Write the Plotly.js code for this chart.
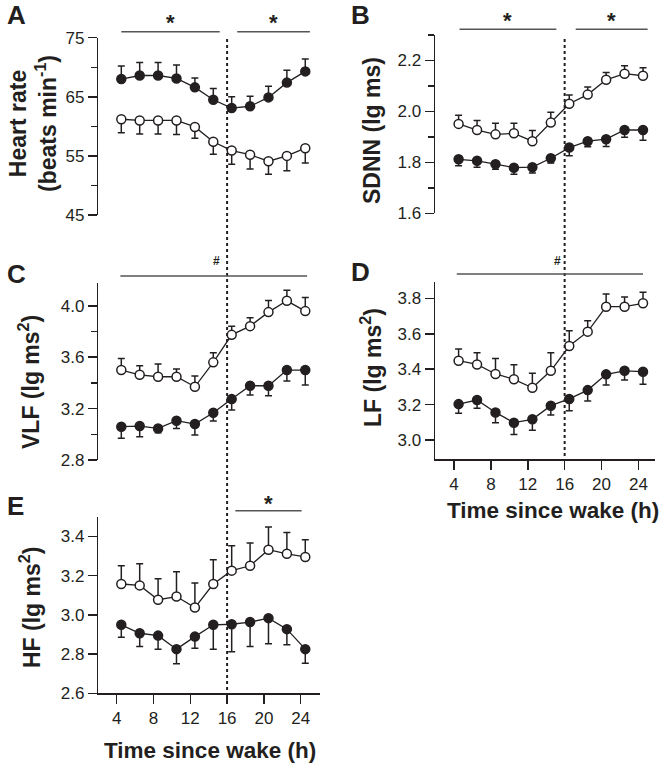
<!DOCTYPE html>
<html>
<head>
<meta charset="utf-8">
<script src="https://cdn.plot.ly/plotly-3.0.1.min.js"></script>
<style>
  html, body { margin: 0; padding: 0; background: #fff; }
  #chart { width: 659px; height: 766px; }
</style>
</head>
<body>
<div id="chart"></div>
<script>
// hours since wake (bin centres)
const hours = [4.5, 6.5, 8.5, 10.5, 12.5, 14.5, 16.5, 18.5, 20.5, 22.5, 24.5];
const xTicks = [4, 8, 12, 16, 20, 24];

// A - heart rate (beats/min)
const hrFilled = [68.0, 68.6, 68.6, 68.1, 66.6, 64.5, 63.1, 63.4, 64.9, 67.4, 69.3];
const hrFilledErr = [2.2, 2.2, 2.2, 2.3, 1.6, 1.9, 1.9, 1.7, 1.9, 2.1, 2.1];
const hrOpen = [61.2, 61.0, 61.0, 61.0, 59.9, 57.4, 55.9, 55.2, 54.1, 55.0, 56.3];
const hrOpenErr = [2.3, 2.3, 2.3, 2.4, 1.9, 2.1, 2.3, 2.4, 2.2, 2.5, 2.5];

// B - SDNN (lg ms)
const sdnnOpen = [1.951, 1.927, 1.910, 1.914, 1.883, 1.956, 2.030, 2.066, 2.124, 2.148, 2.140];
const sdnnOpenErr = [0.034, 0.037, 0.044, 0.040, 0.042, 0.041, 0.034, 0.030, 0.029, 0.031, 0.031];
const sdnnFilled = [1.812, 1.806, 1.793, 1.779, 1.781, 1.816, 1.858, 1.883, 1.891, 1.927, 1.927];
const sdnnFilledErr = [0.025, 0.025, 0.020, 0.026, 0.023, 0.019, 0.032, 0.022, 0.029, 0.028, 0.040];

// C - VLF (lg ms2)
const vlfOpen = [3.500, 3.463, 3.448, 3.448, 3.370, 3.560, 3.774, 3.842, 3.951, 4.039, 3.959];
const vlfOpenErr = [0.090, 0.070, 0.100, 0.060, 0.083, 0.074, 0.068, 0.065, 0.090, 0.083, 0.106];
const vlfFilled = [3.059, 3.064, 3.046, 3.106, 3.080, 3.168, 3.274, 3.378, 3.378, 3.500, 3.500];
const vlfFilledErr = [0.090, 0.083, 0.034, 0.060, 0.086, 0.065, 0.085, 0.073, 0.078, 0.086, 0.117];

// D - LF (lg ms2)
const lfOpen = [3.448, 3.427, 3.373, 3.343, 3.295, 3.391, 3.531, 3.612, 3.753, 3.753, 3.772];
const lfOpenErr = [0.066, 0.066, 0.088, 0.082, 0.082, 0.102, 0.086, 0.062, 0.071, 0.054, 0.062];
const lfFilled = [3.203, 3.226, 3.156, 3.098, 3.117, 3.194, 3.232, 3.282, 3.371, 3.391, 3.386];
const lfFilledErr = [0.052, 0.047, 0.058, 0.066, 0.061, 0.053, 0.066, 0.062, 0.060, 0.052, 0.071];

// E - HF (lg ms2)
const hfOpen = [3.157, 3.150, 3.077, 3.093, 3.037, 3.157, 3.225, 3.250, 3.332, 3.311, 3.295];
const hfOpenErr = [0.093, 0.110, 0.107, 0.127, 0.125, 0.124, 0.127, 0.116, 0.116, 0.109, 0.088];
const hfFilled = [2.949, 2.906, 2.894, 2.825, 2.889, 2.949, 2.952, 2.963, 2.983, 2.927, 2.825];
const hfFilledErr = [0.063, 0.068, 0.069, 0.075, 0.059, 0.125, 0.140, 0.125, 0.131, 0.080, 0.072];

// significance bars [from, to] in hours
const sigA = [[4.5, 15.2], [17.1, 25.0]];
const sigB = [[4.6, 15.1], [17.2, 25.0]];
const sigC = [[4.4, 24.7]];
const sigD = [[4.3, 24.5]];
const sigE = [[16.9, 24.1]];
const hashC = 14.8;
const hashD = 15.2;
const wakeSplit = 16;

const W = 659, H = 766;
const INK = "#231f20";
const FONT = "Liberation Sans, Arial, Helvetica, sans-serif";

const px = (v) => v / W;
const py = (v) => 1 - v / H;

function series(xa, ya, y, err, filled, up) {
    return {
        x: hours, y: y, xaxis: xa, yaxis: ya,
        type: "scatter", mode: "lines+markers",
        line: { color: INK, width: 1.3 },
        marker: {
            symbol: "circle", size: 9,
            color: filled ? INK : "#ffffff",
            line: { color: INK, width: 1.5 },
        },
        error_y: {
            type: "data", symmetric: false,
            array: up ? err : err.map(() => 0),
            arrayminus: up ? err.map(() => 0) : err,
            color: INK, thickness: 1.5, width: 3.5,
        },
        showlegend: false, hoverinfo: "skip",
    };
}

const traces = [
    series("x", "y", hrOpen, hrOpenErr, false, false),
    series("x", "y", hrFilled, hrFilledErr, true, true),
    series("x2", "y2", sdnnFilled, sdnnFilledErr, true, false),
    series("x2", "y2", sdnnOpen, sdnnOpenErr, false, true),
    series("x3", "y3", vlfFilled, vlfFilledErr, true, false),
    series("x3", "y3", vlfOpen, vlfOpenErr, false, true),
    series("x4", "y4", lfFilled, lfFilledErr, true, false),
    series("x4", "y4", lfOpen, lfOpenErr, false, true),
    series("x5", "y5", hfFilled, hfFilledErr, true, false),
    series("x5", "y5", hfOpen, hfOpenErr, false, true),
];

const leftDom = [px(98.3), px(320)];
const rightDom = [px(435), px(655)];

function xAxis(dom, range, visible, anchor) {
    return {
        domain: dom, range: range, anchor: anchor,
        visible: visible, showgrid: false, zeroline: false,
        showline: true, linecolor: INK, linewidth: 1.5,
        ticks: "outside", ticklen: 9, tickwidth: 1.5, tickcolor: INK,
        tickmode: "array", tickvals: xTicks,
        tickfont: { family: FONT, size: 17, color: INK },
        automargin: false, fixedrange: true,
    };
}

function yAxis(dom, range, dtick, tick0, minor, fmt, anchor) {
    const ax = {
        domain: dom, range: range, anchor: anchor,
        showgrid: false, zeroline: false,
        showline: true, linecolor: INK, linewidth: 1.5,
        ticks: "outside", ticklen: 9, tickwidth: 1.5, tickcolor: INK,
        dtick: dtick, tick0: tick0, tickformat: fmt,
        tickfont: { family: FONT, size: 17, color: INK },
        automargin: false, fixedrange: true,
    };
    if (minor) {
        ax.minor = { dtick: minor, ticklen: 6, tickwidth: 1.5, tickcolor: INK, ticks: "outside", showgrid: false };
    }
    return ax;
}

const shapes = [];
const annotations = [];

// dotted line at 16 h, spanning each column
shapes.push({ type: "line", xref: "x", yref: "paper", x0: wakeSplit, x1: wakeSplit,
    y0: py(39), y1: py(693), line: { color: INK, width: 2, dash: "dot" } });
shapes.push({ type: "line", xref: "x2", yref: "paper", x0: wakeSplit, x1: wakeSplit,
    y0: py(39), y1: py(459), line: { color: INK, width: 2, dash: "dot" } });

function sigBars(xref, bars, yLine, yMark, mark, markX) {
    bars.forEach((b) => {
        shapes.push({ type: "line", xref: xref, yref: "paper", x0: b[0], x1: b[1],
            y0: py(yLine), y1: py(yLine), line: { color: "#555555", width: 1.5 } });
        if (mark === "*") {
            annotations.push({ xref: xref, yref: "paper", x: (b[0] + b[1]) / 2, y: py(yMark),
                text: "<b>*</b>", showarrow: false, xanchor: "center", yanchor: "middle",
                font: { family: FONT, size: 22, color: INK } });
        }
    });
    if (mark === "#") {
        annotations.push({ xref: xref, yref: "paper", x: markX, y: py(yMark),
            text: "<b>#</b>", showarrow: false, xanchor: "center", yanchor: "middle",
            font: { family: FONT, size: 12, color: INK } });
    }
}
sigBars("x", sigA, 31.7, 22, "*");
sigBars("x2", sigB, 29.3, 20, "*");
sigBars("x3", sigC, 276, 261, "#", hashC);
sigBars("x4", sigD, 274, 261, "#", hashD);
sigBars("x5", sigE, 510.7, 503, "*");

function label(text, x, y, size, angle) {
    annotations.push({ xref: "paper", yref: "paper", x: px(x), y: py(y), text: text,
        showarrow: false, xanchor: "center", yanchor: "middle", textangle: angle || 0,
        font: { family: FONT, size: size, color: INK } });
}

// panel letters
label("<b>A</b>", 16, 15, 26);
label("<b>B</b>", 360.5, 15, 26);
label("<b>C</b>", 16, 274, 26);
label("<b>D</b>", 360.5, 272, 26);
label("<b>E</b>", 15.5, 506, 26);

// axis titles
label("<b>Heart rate<br>(beats min<sup>-1</sup>)</b>", 33, 124, 23, -90);
label("<b>SDNN (lg ms)</b>", 372, 131, 23, -90);
label("<b>VLF (lg ms<sup>2</sup>)</b>", 29, 382, 23, -90);
label("<b>LF (lg ms<sup>2</sup>)</b>", 371, 368, 23, -90);
label("<b>HF (lg ms<sup>2</sup>)</b>", 30, 608, 23, -90);
label("<b>Time since wake (h)</b>", 210, 750, 22.5);
label("<b>Time since wake (h)</b>", 553, 510, 22.5);

const layout = {
    width: W, height: H,
    margin: { l: 0, r: 0, t: 0, b: 0 },
    paper_bgcolor: "#ffffff", plot_bgcolor: "rgba(0,0,0,0)",
    showlegend: false,
    font: { family: FONT, color: INK },
    xaxis: xAxis(leftDom, [2.0, 26.1], false, "y"),
    xaxis2: xAxis(rightDom, [1.94, 25.8], false, "y2"),
    xaxis3: xAxis(leftDom, [2.0, 26.1], false, "y3"),
    xaxis4: xAxis(rightDom, [1.94, 25.8], true, "y4"),
    xaxis5: xAxis(leftDom, [2.0, 26.1], true, "y5"),
    yaxis: yAxis([py(215), py(37.7)], [45, 75], 10, 45, 5, "d", "x"),
    yaxis2: yAxis([py(213.3), py(35)], [1.6, 2.3], 0.2, 1.6, 0.1, ".1f", "x2"),
    yaxis3: yAxis([py(460), py(282.7)], [2.8, 4.18], 0.4, 2.8, 0.2, ".1f", "x3"),
    yaxis4: yAxis([py(459), py(281.7)], [2.893, 3.894], 0.2, 3.0, null, ".1f", "x4"),
    yaxis5: yAxis([py(693.3), py(516.7)], [2.6, 3.5], 0.2, 2.6, null, ".1f", "x5"),
    shapes: shapes,
    annotations: annotations,
};

Plotly.newPlot("chart", traces, layout, { displayModeBar: false, staticPlot: true });
</script>
</body>
</html>
